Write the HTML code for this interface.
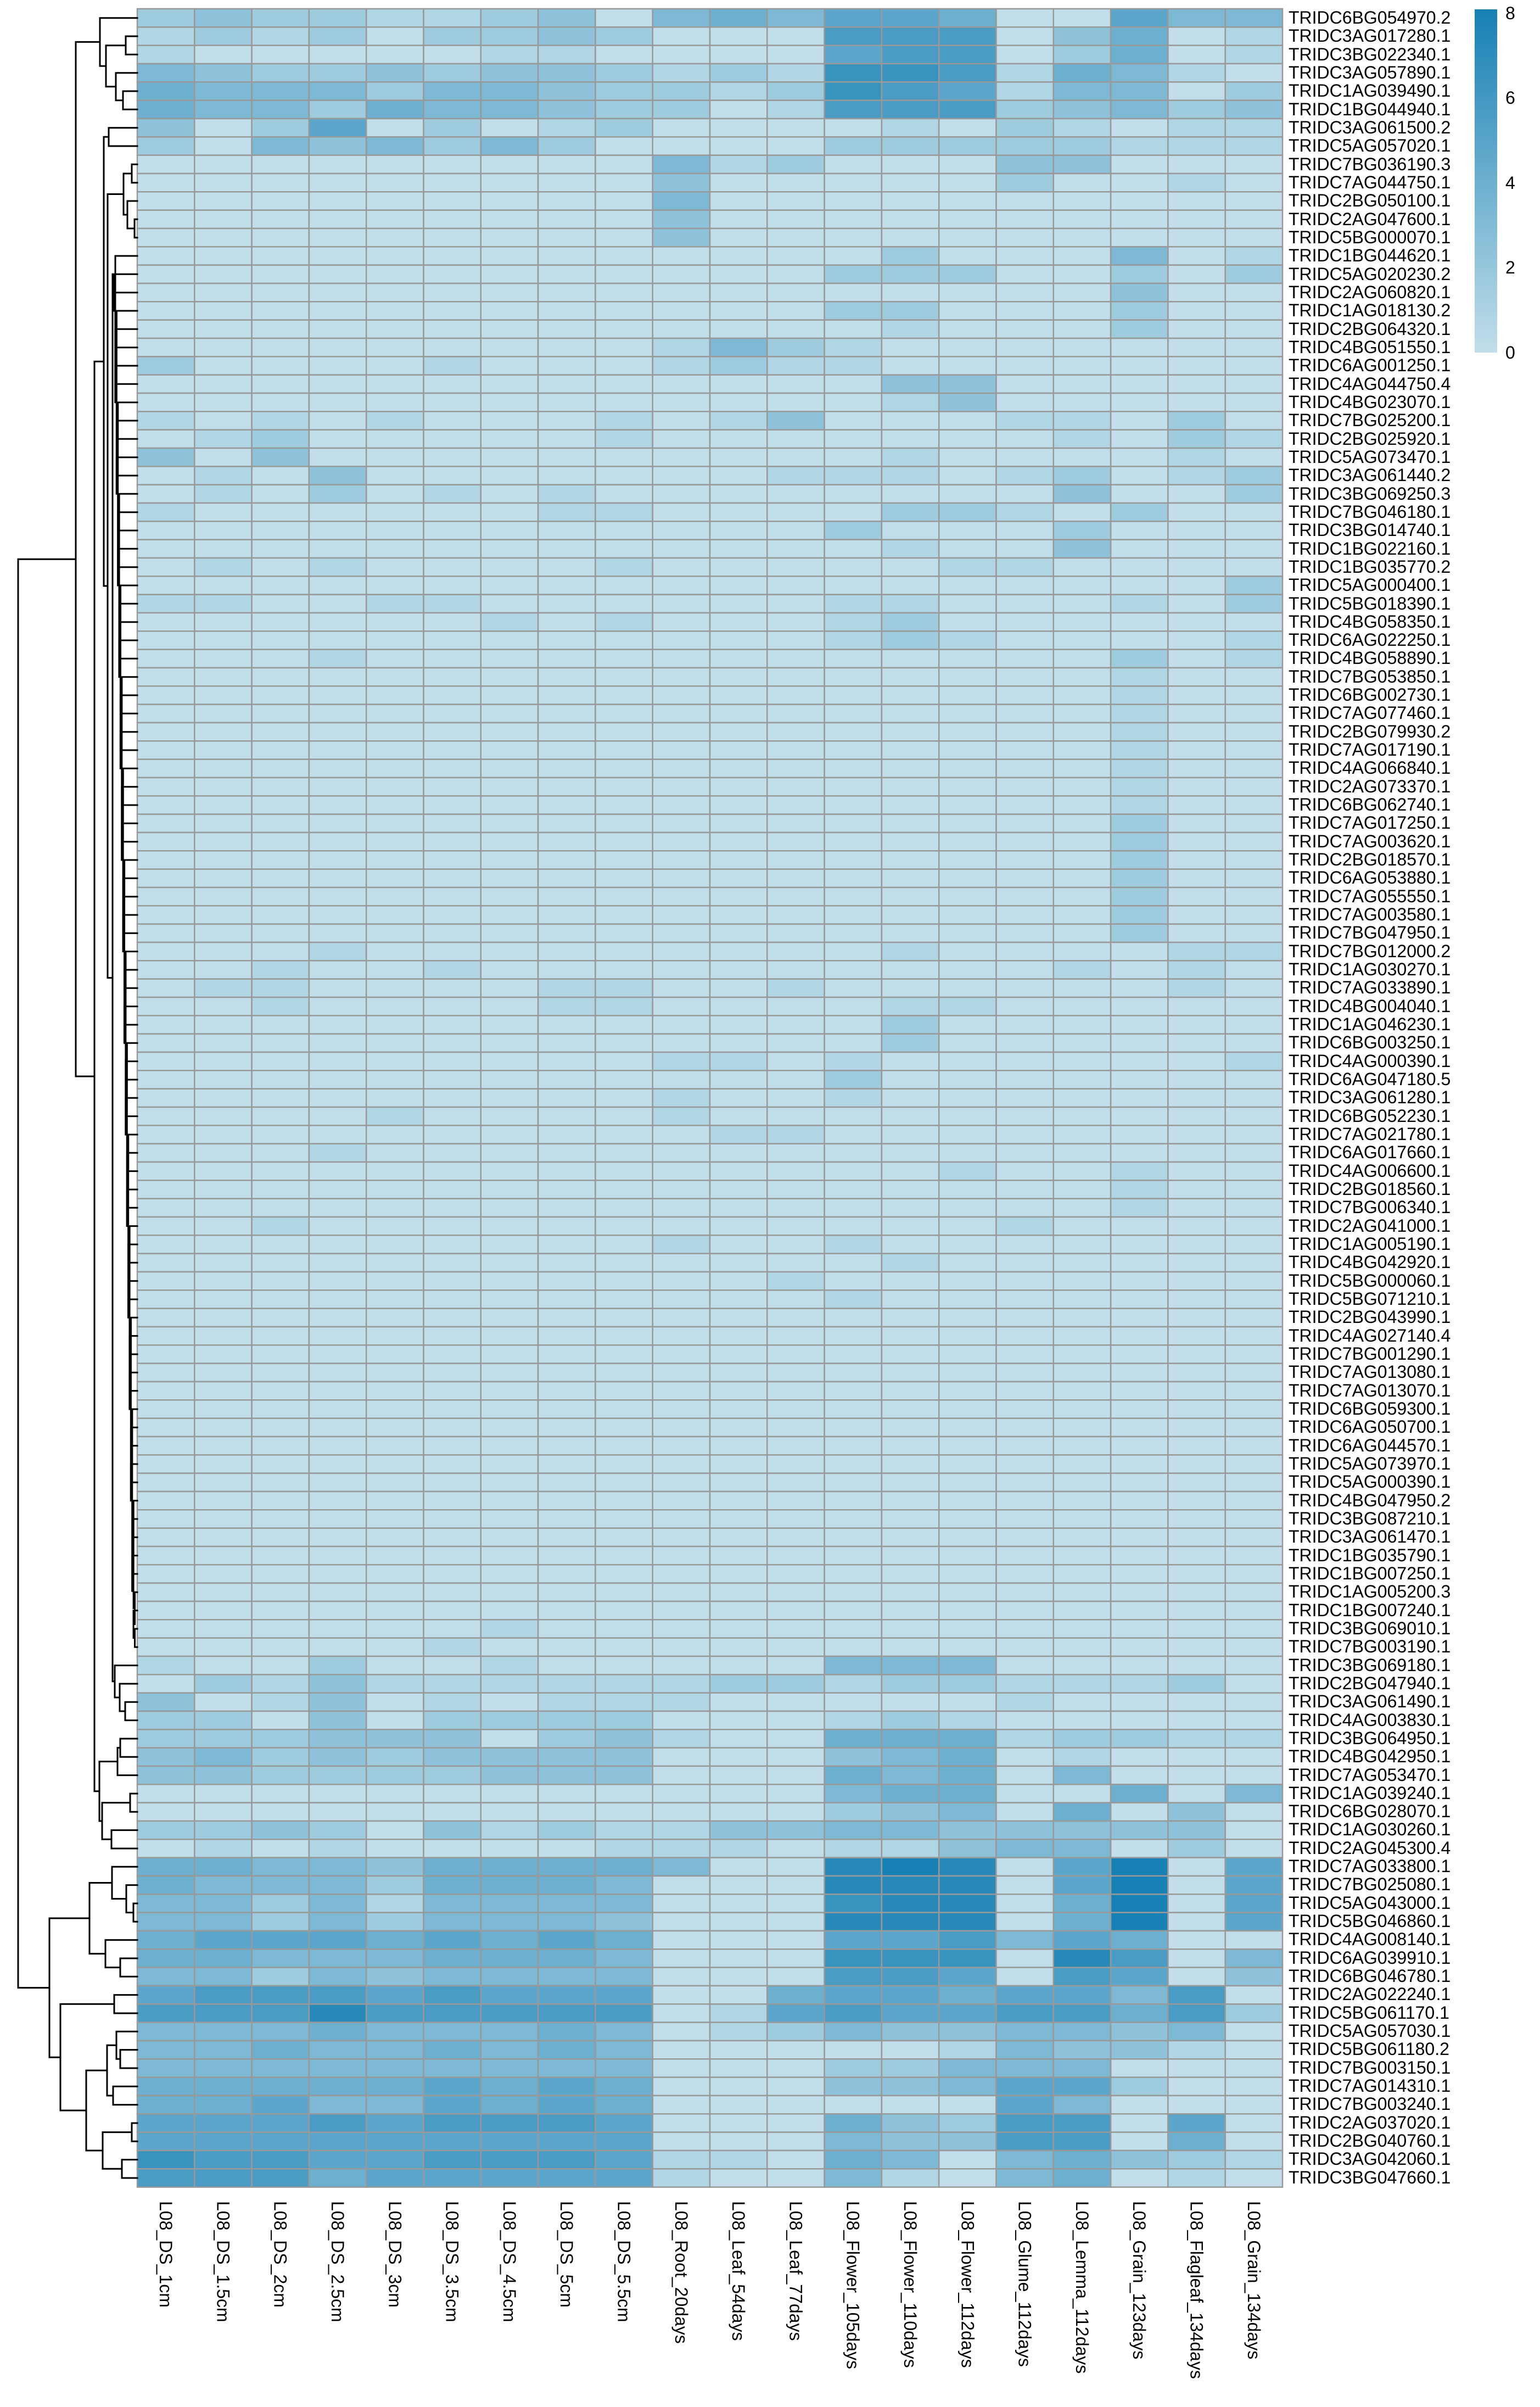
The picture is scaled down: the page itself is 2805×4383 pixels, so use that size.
<!DOCTYPE html>
<html><head><meta charset="utf-8">
<style>
html,body{margin:0;padding:0;background:#fff;}
body{width:2805px;height:4383px;position:relative;overflow:hidden;font-family:"Liberation Sans",sans-serif;}
#rl{position:absolute;left:2347px;top:16px;width:440px;display:flex;flex-direction:column;}
#rl div{height:33.33px;line-height:33.33px;font-size:32px;white-space:nowrap;color:#000;}
#cl{position:absolute;left:250px;top:4008px;width:2086px;display:flex;flex-direction:row;}
#cl div{width:104.3px;display:flex;justify-content:center;}
#cl span{writing-mode:vertical-rl;font-size:32px;line-height:34px;white-space:nowrap;color:#000;}
.lg{position:absolute;left:2742px;font-size:32px;line-height:34px;color:#000;}
svg{position:absolute;left:0;top:0;}
</style></head><body>
<svg id="s" width="2805" height="4383" xmlns="http://www.w3.org/2000/svg">
<defs><linearGradient id="g" x1="0" y1="1" x2="0" y2="0">
<stop offset="0" stop-color="rgb(193,222,234)"/><stop offset="1" stop-color="rgb(23,128,180)"/></linearGradient></defs>
<rect x="2686" y="17" width="41" height="625" fill="url(#g)"/>
<g id="cells"></g><g id="dend" stroke="#000" stroke-width="3" fill="none" stroke-linecap="square"></g>
</svg>
<div class="lg" style="top:7px">8</div>
<div class="lg" style="top:161px">6</div>
<div class="lg" style="top:316px">4</div>
<div class="lg" style="top:470px">2</div>
<div class="lg" style="top:625px">0</div>
<div id="rl">
<div>TRIDC6BG054970.2</div><div>TRIDC3AG017280.1</div><div>TRIDC3BG022340.1</div><div>TRIDC3AG057890.1</div><div>TRIDC1AG039490.1</div><div>TRIDC1BG044940.1</div><div>TRIDC3AG061500.2</div><div>TRIDC5AG057020.1</div><div>TRIDC7BG036190.3</div><div>TRIDC7AG044750.1</div>
<div>TRIDC2BG050100.1</div><div>TRIDC2AG047600.1</div><div>TRIDC5BG000070.1</div><div>TRIDC1BG044620.1</div><div>TRIDC5AG020230.2</div><div>TRIDC2AG060820.1</div><div>TRIDC1AG018130.2</div><div>TRIDC2BG064320.1</div><div>TRIDC4BG051550.1</div><div>TRIDC6AG001250.1</div>
<div>TRIDC4AG044750.4</div><div>TRIDC4BG023070.1</div><div>TRIDC7BG025200.1</div><div>TRIDC2BG025920.1</div><div>TRIDC5AG073470.1</div><div>TRIDC3AG061440.2</div><div>TRIDC3BG069250.3</div><div>TRIDC7BG046180.1</div><div>TRIDC3BG014740.1</div><div>TRIDC1BG022160.1</div>
<div>TRIDC1BG035770.2</div><div>TRIDC5AG000400.1</div><div>TRIDC5BG018390.1</div><div>TRIDC4BG058350.1</div><div>TRIDC6AG022250.1</div><div>TRIDC4BG058890.1</div><div>TRIDC7BG053850.1</div><div>TRIDC6BG002730.1</div><div>TRIDC7AG077460.1</div><div>TRIDC2BG079930.2</div>
<div>TRIDC7AG017190.1</div><div>TRIDC4AG066840.1</div><div>TRIDC2AG073370.1</div><div>TRIDC6BG062740.1</div><div>TRIDC7AG017250.1</div><div>TRIDC7AG003620.1</div><div>TRIDC2BG018570.1</div><div>TRIDC6AG053880.1</div><div>TRIDC7AG055550.1</div><div>TRIDC7AG003580.1</div>
<div>TRIDC7BG047950.1</div><div>TRIDC7BG012000.2</div><div>TRIDC1AG030270.1</div><div>TRIDC7AG033890.1</div><div>TRIDC4BG004040.1</div><div>TRIDC1AG046230.1</div><div>TRIDC6BG003250.1</div><div>TRIDC4AG000390.1</div><div>TRIDC6AG047180.5</div><div>TRIDC3AG061280.1</div>
<div>TRIDC6BG052230.1</div><div>TRIDC7AG021780.1</div><div>TRIDC6AG017660.1</div><div>TRIDC4AG006600.1</div><div>TRIDC2BG018560.1</div><div>TRIDC7BG006340.1</div><div>TRIDC2AG041000.1</div><div>TRIDC1AG005190.1</div><div>TRIDC4BG042920.1</div><div>TRIDC5BG000060.1</div>
<div>TRIDC5BG071210.1</div><div>TRIDC2BG043990.1</div><div>TRIDC4AG027140.4</div><div>TRIDC7BG001290.1</div><div>TRIDC7AG013080.1</div><div>TRIDC7AG013070.1</div><div>TRIDC6BG059300.1</div><div>TRIDC6AG050700.1</div><div>TRIDC6AG044570.1</div><div>TRIDC5AG073970.1</div>
<div>TRIDC5AG000390.1</div><div>TRIDC4BG047950.2</div><div>TRIDC3BG087210.1</div><div>TRIDC3AG061470.1</div><div>TRIDC1BG035790.1</div><div>TRIDC1BG007250.1</div><div>TRIDC1AG005200.3</div><div>TRIDC1BG007240.1</div><div>TRIDC3BG069010.1</div><div>TRIDC7BG003190.1</div>
<div>TRIDC3BG069180.1</div><div>TRIDC2BG047940.1</div><div>TRIDC3AG061490.1</div><div>TRIDC4AG003830.1</div><div>TRIDC3BG064950.1</div><div>TRIDC4BG042950.1</div><div>TRIDC7AG053470.1</div><div>TRIDC1AG039240.1</div><div>TRIDC6BG028070.1</div><div>TRIDC1AG030260.1</div>
<div>TRIDC2AG045300.4</div><div>TRIDC7AG033800.1</div><div>TRIDC7BG025080.1</div><div>TRIDC5AG043000.1</div><div>TRIDC5BG046860.1</div><div>TRIDC4AG008140.1</div><div>TRIDC6AG039910.1</div><div>TRIDC6BG046780.1</div><div>TRIDC2AG022240.1</div><div>TRIDC5BG061170.1</div>
<div>TRIDC5AG057030.1</div><div>TRIDC5BG061180.2</div><div>TRIDC7BG003150.1</div><div>TRIDC7AG014310.1</div><div>TRIDC7BG003240.1</div><div>TRIDC2AG037020.1</div><div>TRIDC2BG040760.1</div><div>TRIDC3AG042060.1</div><div>TRIDC3BG047660.1</div>
</div>
<div id="cl">
<div><span>L08_DS_1cm</span></div><div><span>L08_DS_1.5cm</span></div><div><span>L08_DS_2cm</span></div><div><span>L08_DS_2.5cm</span></div><div><span>L08_DS_3cm</span></div><div><span>L08_DS_3.5cm</span></div><div><span>L08_DS_4.5cm</span></div><div><span>L08_DS_5cm</span></div><div><span>L08_DS_5.5cm</span></div><div><span>L08_Root_20days</span></div>
<div><span>L08_Leaf_54days</span></div><div><span>L08_Leaf_77days</span></div><div><span>L08_Flower_105days</span></div><div><span>L08_Flower_110days</span></div><div><span>L08_Flower_112days</span></div><div><span>L08_Glume_112days</span></div><div><span>L08_Lemma_112days</span></div><div><span>L08_Grain_123days</span></div><div><span>L08_Flagleaf_134days</span></div><div><span>L08_Grain_134days</span></div>
</div>
<script>
(function(){
var Z="00000000000000000000";
var D={1:"23221123045466500644",2:"12120223200077703501",3:"10000011000067702501",4:"43223233212188715410",5:"54442443221287614402",6:"54425443220177723423",7:"30260201200001021011",8:"20434242000022222111",9:"00000000041200033000",10:"00000000030000020010",11:"00000000040000000000",12:"00000000030000000000",13:"00000000030000000000",14:"00000000000002000401",15:"00000000000022200202",16:"00000000000000000300",17:"00000000000022000200",18:"00000000000001000200",19:"00000000014210000000",20:"20000100012110000000",21:"00000000000003300000",22:"00000000000001300000",23:"10101000101300011020",24:"01200000100000001021",25:"30300000000001000010",26:"01030000000111012012",27:"01020101000000003002",28:"10000001100002210200",29:"00000000000020002000",30:"00000000000001003000",31:"01010000100000110000",32:"00000000000000000002",33:"11001100000011000102",34:"00000010100012000000",35:"00000000000012100001",36:"00010000000000000201",
51:"00000000000000000200",52:"00010000000001000011",53:"00100100000000001010",54:"01100001100100000010",55:"00100001100001100000",56:"00000000000002000000",57:"00000000000002000000",58:"00000000011010000001",59:"00000000000020000000",60:"00000000010010000000",61:"00001000010000000000",62:"00000000001100000000",63:"00010000000000000000",64:"00000000000000100100",65:"00000000000000000100",66:"00000000000000000100",67:"00100000000000010000",68:"00000000010010000000",69:"00000000000001000000",70:"00000000000100000000",71:"00000000000010000000",
89:"00000010000000000000",90:"00000100000000000000",91:"10020010000044400000",92:"02131111112212211120",93:"30130101110000010000",94:"22030222200012100000",95:"22233302310055512211",96:"34232333300034501000",97:"33222233300054504000",98:"00000000000045500504",99:"00000000000023405030",100:"22320312113344333330",101:"01010000111011344020",102:"5544355554009a906a06",103:"54442555400099906a06",104:"44241444400089905a06",105:"44242444300099905a06",106:"56665656500066746500",107:"55444555400088809704",108:"44243444400077607603",109:"67776766600566566470",110:"77797777701676677572",111:"44454445401243344340",112:"44544545400000143310",113:"44444444400022444000",114:"55555656500033466200",115:"55644656500000064000",116:"66676777600053277060",117:"66666666600043377050",118:"87766777611054045321",119:"77756666610041045010"};
for(var i=37;i<=50;i++) D[i]= i<45?"00000000000000000100":"00000000000000000200";
var L=250,T=16,W=104.3,H=33.333,N=119;
var c0=[193,222,234],c1=[23,128,180];
function col(v){var t=v/10;return "rgb("+[0,1,2].map(function(k){return Math.round(c0[k]+(c1[k]-c0[k])*t);}).join(",")+")";}
var s="";
for(var r=1;r<=N;r++){var row=(D[r]||Z);
 for(var c=0;c<20;c++){var ch=row.charAt(c)||"0";var v=ch==="a"?10:parseInt(ch,10);if(isNaN(v))v=0;
  s+='<rect x="'+(L+c*W).toFixed(2)+'" y="'+(T+(r-1)*H).toFixed(2)+'" width="'+W.toFixed(2)+'" height="'+H.toFixed(2)+'" fill="'+col(v)+'" stroke="#999" stroke-width="2.5"/>';}}
document.getElementById("cells").innerHTML=s;
function yc(i){return T+(i-0.5)*H;}
var F=90;for(var j=89;j>=14;j--){var x=207+(j-14)/76*36+((j*7)%5);F=[x,j,F];}
var Fclust=[205,F,[209,91,[218,92,[228,93,94]]]];
var A1=[182,1,[193,[229,2,3],[211,4,[224,5,6]]]];
var R913=[225,[240,9,10],[232,11,[245,12,13]]];
var A2a=[189,[198,7,8],[196,R913,Fclust]];
var A2b=[181,[214,[219,95,96],97],[186,[237,98,99],[203,100,101]]];
var A=[138,A1,[172,A2a,A2b]];
var B1=[163,[204,102,[230,103,[243,104,105]]],[192,106,[219,107,108]]];
var B2=[110,[208,109,110],[157,[195,[212,111,[219,112,113]],[206,114,115]],[187,[240,116,117],[222,118,119]]]];
var root=[33,A,[90,B1,B2]];
var p="";
function dr(n){if(typeof n==="number")return{x:L,y:yc(n)};
 var a=dr(n[1]),b=dr(n[2]),x=n[0];
 p+="M"+a.x+" "+a.y.toFixed(1)+"H"+x+"V"+b.y.toFixed(1)+"H"+b.x+" ";
 return{x:x,y:(a.y+b.y)/2};}
dr(root);
document.getElementById("dend").innerHTML='<path d="'+p+'"/>';
})();
</script>
</body></html>
